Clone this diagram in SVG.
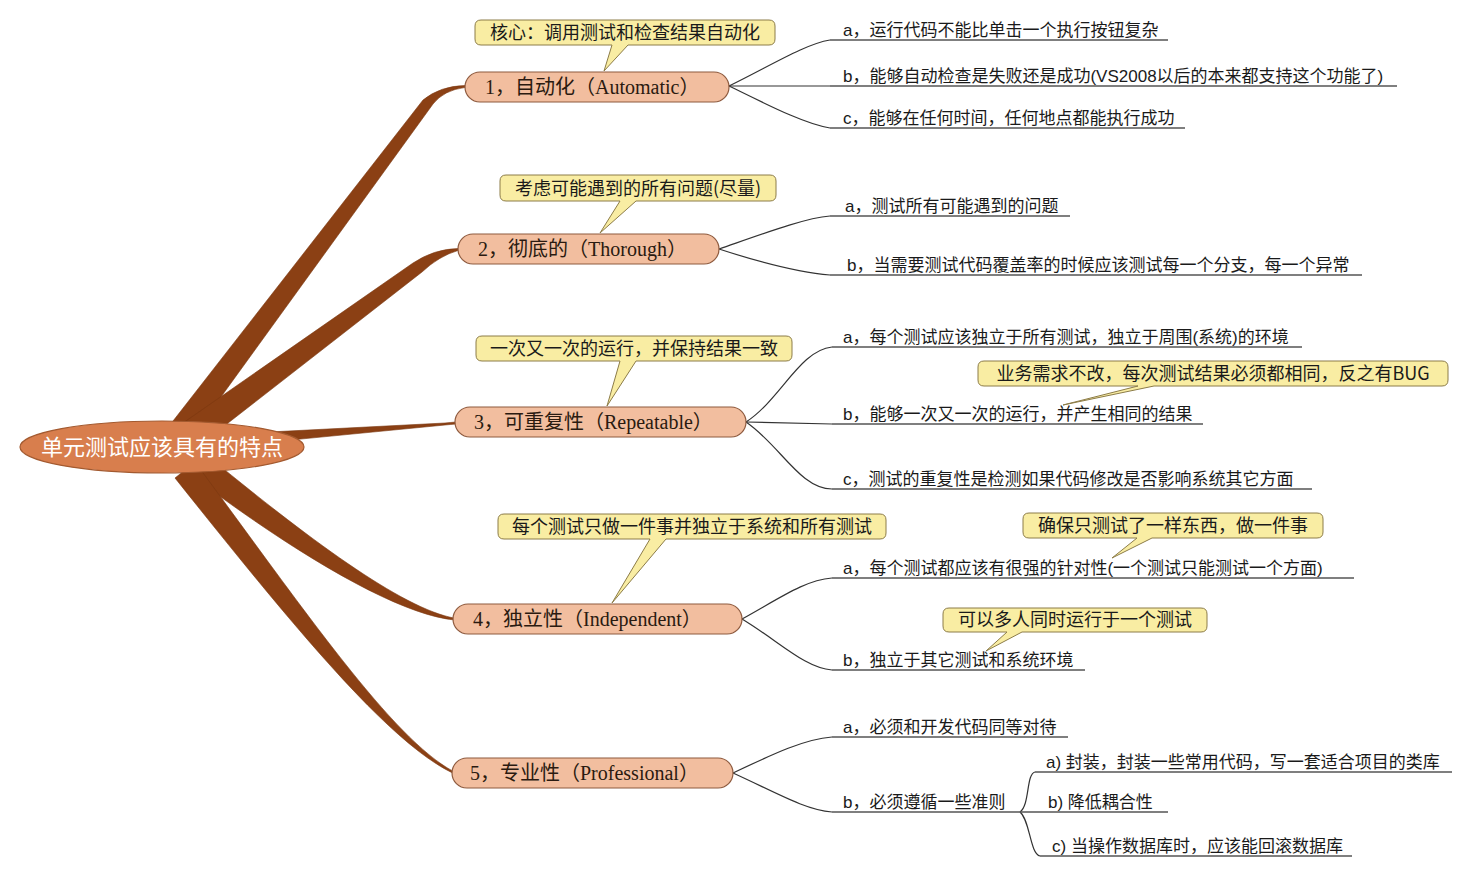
<svg xmlns="http://www.w3.org/2000/svg" width="1475" height="877" viewBox="0 0 1475 877">
<style>
.branch{fill:#8B4014;stroke:#7A3810;stroke-width:0.6}
.topic rect{fill:#F2BE9F;stroke:#8E5A3E;stroke-width:1.2}
.topic text{font-family:"Liberation Serif","Noto Sans CJK SC",serif;font-size:20px;fill:#2A1A10}
.leaf text{font-family:"Liberation Sans","Noto Sans CJK SC",sans-serif;font-size:17px;fill:#1A1A1A}
.ul{stroke:#555;stroke-width:1.3;fill:none}
.conn{stroke:#333;stroke-width:1.2;fill:none}
.callout path{fill:#F9EDA3;stroke:#8C7C48;stroke-width:1}
.callout text{font-family:"Noto Sans CJK SC",sans-serif;font-size:18px;fill:#1A1A1A;text-anchor:middle}
</style>
<rect width="1475" height="877" fill="#FFFFFF"/>
<g id="connectors">
  <path class="branch" d="M166,430 L423,100 Q440,86 465,85.5 L465,87.5 Q444,90 433,104 L197,430 Z"/>
  <path class="branch" d="M183,423 L413,263 Q434,249 458,248.5 L458,250.5 Q439,256 422,272 L214,434 Z"/>
  <path class="branch" d="M250,433 L445,423 Q450,422.5 456,422 L456,424 Q450,424.5 445,425 L250,444 Z"/>
  <path class="branch" d="M203,452 C306,537 402,609 455,618.2 L455,620 C398,615 294,553 187,472 Z"/>
  <path class="branch" d="M195,462 C307,614 392,738 453,771.2 L453,773.2 C388,742 293,626 175,478 Z"/>
  <path class="conn" d="M729,86 C770,66 805,44 830,40"/>
  <path class="conn" d="M729,86 H830"/>
  <path class="conn" d="M729,86 C770,106 805,124 830,128"/>
  <path class="conn" d="M719,249 C765,233 805,218 830,216"/>
  <path class="conn" d="M719,249 C765,264 805,273 830,275"/>
  <path class="conn" d="M746,422 C780,400 800,350 832,347"/>
  <path class="conn" d="M746,422 L832,424"/>
  <path class="conn" d="M746,422 C780,445 800,489 832,489"/>
  <path class="conn" d="M742,619 C780,598 805,580 832,578"/>
  <path class="conn" d="M742,619 C780,642 805,668 832,670"/>
  <path class="conn" d="M733,773 C775,753 805,739 832,737"/>
  <path class="conn" d="M733,773 C775,792 805,810 832,812"/>
  <path class="conn" d="M1020,812 C1030,805 1026,774 1035,772"/>
  <path class="conn" d="M1020,812 C1030,820 1030,854 1040,856"/>
</g>
<g id="root">
  <ellipse cx="162" cy="447" rx="142" ry="26" fill="#D87E4D" stroke="#A35A30" stroke-width="1.2"/>
  <text x="162" y="455" text-anchor="middle" font-family="Noto Sans CJK SC, sans-serif" font-size="22" fill="#FFFFFF">单元测试应该具有的特点</text>
</g>
<g id="topic1" class="topic"><rect x="465" y="72" width="264" height="30" rx="15"/><text x="485" y="94">1，自动化（Automatic）</text></g>
<g id="topic2" class="topic"><rect x="458" y="234" width="261" height="30" rx="15"/><text x="478" y="256">2，彻底的（Thorough）</text></g>
<g id="topic3" class="topic"><rect x="455" y="407" width="291" height="30" rx="15"/><text x="474" y="429">3，可重复性（Repeatable）</text></g>
<g id="topic4" class="topic"><rect x="453" y="604" width="289" height="30" rx="15"/><text x="473" y="626">4，独立性（Independent）</text></g>
<g id="topic5" class="topic"><rect x="452" y="758" width="281" height="30" rx="15"/><text x="470" y="780">5，专业性（Professional）</text></g>
<g id="leaf1a" class="leaf"><path class="ul" d="M830,40 H1168"/><text x="843" y="36">a，运行代码不能比单击一个执行按钮复杂</text></g>
<g id="leaf1b" class="leaf"><path class="ul" d="M830,86 H1397"/><text x="843" y="82">b，能够自动检查是失败还是成功(VS2008以后的本来都支持这个功能了)</text></g>
<g id="leaf1c" class="leaf"><path class="ul" d="M830,128 H1185"/><text x="843" y="124">c，能够在任何时间，任何地点都能执行成功</text></g>
<g id="leaf2a" class="leaf"><path class="ul" d="M830,216 H1070"/><text x="845" y="212">a，测试所有可能遇到的问题</text></g>
<g id="leaf2b" class="leaf"><path class="ul" d="M830,275 H1362"/><text x="847" y="271">b，当需要测试代码覆盖率的时候应该测试每一个分支，每一个异常</text></g>
<g id="leaf3a" class="leaf"><path class="ul" d="M832,347 H1302"/><text x="843" y="343">a，每个测试应该独立于所有测试，独立于周围(系统)的环境</text></g>
<g id="leaf3b" class="leaf"><path class="ul" d="M832,424 H1203"/><text x="843" y="420">b，能够一次又一次的运行，并产生相同的结果</text></g>
<g id="leaf3c" class="leaf"><path class="ul" d="M832,489 H1312"/><text x="843" y="485">c，测试的重复性是检测如果代码修改是否影响系统其它方面</text></g>
<g id="leaf4a" class="leaf"><path class="ul" d="M832,578 H1354"/><text x="843" y="574">a，每个测试都应该有很强的针对性(一个测试只能测试一个方面)</text></g>
<g id="leaf4b" class="leaf"><path class="ul" d="M832,670 H1085"/><text x="843" y="666">b，独立于其它测试和系统环境</text></g>
<g id="leaf5a" class="leaf"><path class="ul" d="M832,737 H1068"/><text x="843" y="733">a，必须和开发代码同等对待</text></g>
<g id="leaf5b" class="leaf"><path class="ul" d="M832,812 H1020"/><text x="843" y="808">b，必须遵循一些准则</text></g>
<g id="leaf5b1" class="leaf"><path class="ul" d="M1035,772 H1452"/><text x="1046" y="768">a) 封装，封装一些常用代码，写一套适合项目的类库</text></g>
<g id="leaf5b2" class="leaf"><path class="ul" d="M1020,812 H1168"/><text x="1048" y="808">b) 降低耦合性</text></g>
<g id="leaf5b3" class="leaf"><path class="ul" d="M1040,856 H1352"/><text x="1052" y="852">c) 当操作数据库时，应该能回滚数据库</text></g>
<g id="callout1" class="callout"><path d="M481,20 H769 Q775,20 775,26 V39 Q775,45 769,45 H628 L604,71 L612,45 H481 Q475,45 475,39 V26 Q475,20 481,20 Z"/><text x="625" y="39">核心：调用测试和检查结果自动化</text></g>
<g id="callout2" class="callout"><path d="M506,175 H770 Q776,175 776,181 V195 Q776,201 770,201 H636 L600,233 L620,201 H506 Q500,201 500,195 V181 Q500,175 506,175 Z"/><text x="638" y="195">考虑可能遇到的所有问题(尽量)</text></g>
<g id="callout3" class="callout"><path d="M482,336 H786 Q792,336 792,342 V355 Q792,361 786,361 H636 L607,406 L620,361 H482 Q476,361 476,355 V342 Q476,336 482,336 Z"/><text x="634" y="355">一次又一次的运行，并保持结果一致</text></g>
<g id="callout3b" class="callout"><path d="M984,361 H1442 Q1448,361 1448,367 V380 Q1448,386 1442,386 H1154 L1063,405 L1138,386 H984 Q978,386 978,380 V367 Q978,361 984,361 Z"/><text x="1213" y="380">业务需求不改，每次测试结果必须都相同，反之有BUG</text></g>
<g id="callout4" class="callout"><path d="M504,514 H880 Q886,514 886,520 V533 Q886,539 880,539 H666 L612,603 L650,539 H504 Q498,539 498,533 V520 Q498,514 504,514 Z"/><text x="692" y="533">每个测试只做一件事并独立于系统和所有测试</text></g>
<g id="callout4a" class="callout"><path d="M1029,513 H1317 Q1323,513 1323,519 V532 Q1323,538 1317,538 H1152 L1112,558 L1137,538 H1029 Q1023,538 1023,532 V519 Q1023,513 1029,513 Z"/><text x="1173" y="532">确保只测试了一样东西，做一件事</text></g>
<g id="callout4b" class="callout"><path d="M949,608 H1201 Q1207,608 1207,614 V626 Q1207,632 1201,632 H1022 L986,651 L1007,632 H949 Q943,632 943,626 V614 Q943,608 949,608 Z"/><text x="1075" y="626">可以多人同时运行于一个测试</text></g>
</svg>
